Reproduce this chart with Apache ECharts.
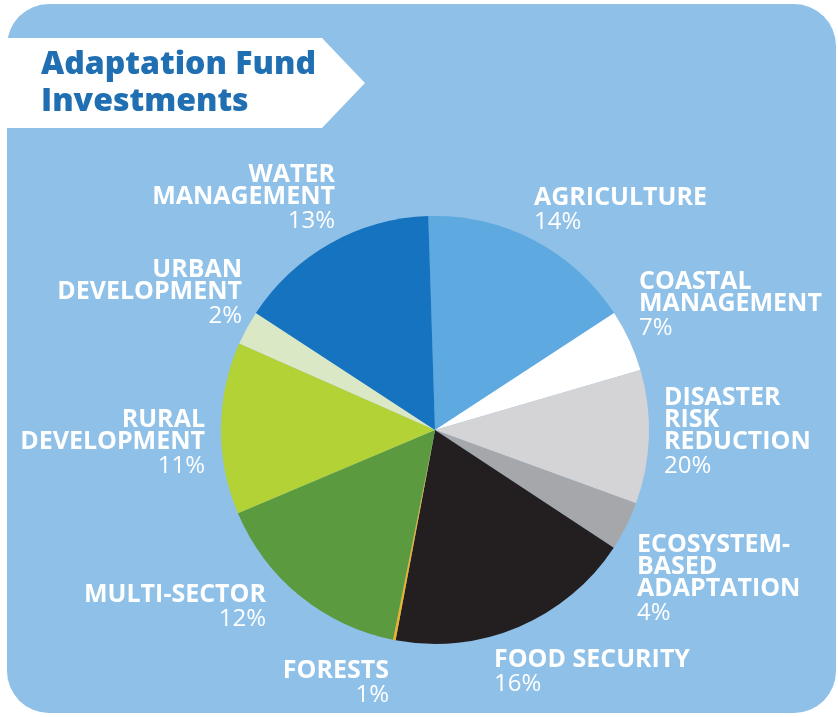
<!DOCTYPE html>
<html>
<head>
<meta charset="utf-8">
<style>
  html, body { margin: 0; padding: 0; background: #ffffff; }
  #chart { width: 838px; height: 717px; }
</style>
<script src="https://cdn.jsdelivr.net/npm/echarts@6/dist/echarts.min.js"></script>
</head>
<body>
<div id="chart"></div>
<script>
// Category labels as printed (line breaks as in the picture)
const categories = [
  'AGRICULTURE',
  'COASTAL\nMANAGEMENT',
  'DISASTER\nRISK\nREDUCTION',
  'ECOSYSTEM-\nBASED\nADAPTATION',
  'FOOD SECURITY',
  'FORESTS',
  'MULTI-SECTOR',
  'RURAL\nDEVELOPMENT',
  'URBAN\nDEVELOPMENT',
  'WATER\nMANAGEMENT'
];
// Percentages as printed on the chart
const printedPercents = ['14%', '7%', '20%', '4%', '16%', '1%', '12%', '11%', '2%', '13%'];
// Slice sizes as drawn in the picture (share of the full circle)
const sliceShares = [16.3, 4.7, 10.1, 3.7, 18.7, 0.2, 15.5, 13.0, 2.6, 15.3];

// styling / layout (kept apart from data)
const sliceColors = ['#5ea9df', '#ffffff', '#d4d4d6', '#a6a7aa', '#231f20', '#f2b025', '#5b9a3f', '#b3d235', '#dbe8c6', '#1673bf'];
const labelAnchors = [
  { x: 534, y: 187, side: 'l' },
  { x: 639, y: 271, side: 'l' },
  { x: 664, y: 387, side: 'l' },
  { x: 637, y: 534, side: 'l' },
  { x: 494, y: 649, side: 'l' },
  { x: 389, y: 660, side: 'r' },
  { x: 266, y: 584, side: 'r' },
  { x: 205, y: 409, side: 'r' },
  { x: 242, y: 259, side: 'r' },
  { x: 335, y: 164, side: 'r' }
];

const FONT = '"Open Sans", "Noto Sans", sans-serif';
const chart = echarts.init(document.getElementById('chart'), null, { renderer: 'canvas' });

const pieData = categories.map((name, i) => ({
  name: name,
  value: sliceShares[i],
  itemStyle: { color: sliceColors[i] }
}));

chart.setOption({
  animation: false,
  backgroundColor: '#ffffff',
  graphic: [
    {
      type: 'rect', z: -10,
      shape: { x: 7, y: 4, width: 829, height: 709, r: 42 },
      style: { fill: '#8ec0e8' }
    },
    {
      type: 'polygon', z: -9,
      shape: { points: [[7, 38], [322, 38], [365, 83], [322, 128], [7, 128]] },
      style: { fill: '#ffffff' }
    }
  ],
  title: {
    text: 'Adaptation Fund\nInvestments',
    left: 36, top: 41,
    textStyle: {
      fontFamily: FONT, fontWeight: 800, fontSize: 32, lineHeight: 37, color: '#1f6fb2'
    }
  },
  series: [{
    type: 'pie',
    center: [435, 430],
    radius: 214,
    startAngle: 91.8,
    clockwise: true,
    avoidLabelOverlap: false,
    data: pieData,
    itemStyle: { borderWidth: 0 },
    emphasis: { disabled: true },
    labelLine: { show: false },
    label: {
      show: true,
      position: 'outside',
      color: '#ffffff',
      formatter: function (p) {
        const s = labelAnchors[p.dataIndex].side;
        const lines = categories[p.dataIndex].split('\n').map(t => '{n' + s + '|' + t + '}');
        lines.push('{p' + s + '|' + printedPercents[p.dataIndex] + '}');
        return lines.join('\n');
      },
      rich: {
        nl: { fontFamily: FONT, fontWeight: 'bold', fontSize: 25, lineHeight: 22, color: '#ffffff', align: 'left' },
        pl: { fontFamily: FONT, fontWeight: 'normal', fontSize: 24, lineHeight: 26, color: '#ffffff', align: 'left' },
        nr: { fontFamily: FONT, fontWeight: 'bold', fontSize: 25, lineHeight: 22, color: '#ffffff', align: 'right' },
        pr: { fontFamily: FONT, fontWeight: 'normal', fontSize: 24, lineHeight: 26, color: '#ffffff', align: 'right' }
      }
    },
    labelLayout: function (params) {
      const a = labelAnchors[params.dataIndex];
      return {
        x: a.x, y: a.y,
        align: a.side === 'l' ? 'left' : 'right',
        verticalAlign: 'top',
        hideOverlap: false
      };
    }
  }]
});
</script>
</body>
</html>
